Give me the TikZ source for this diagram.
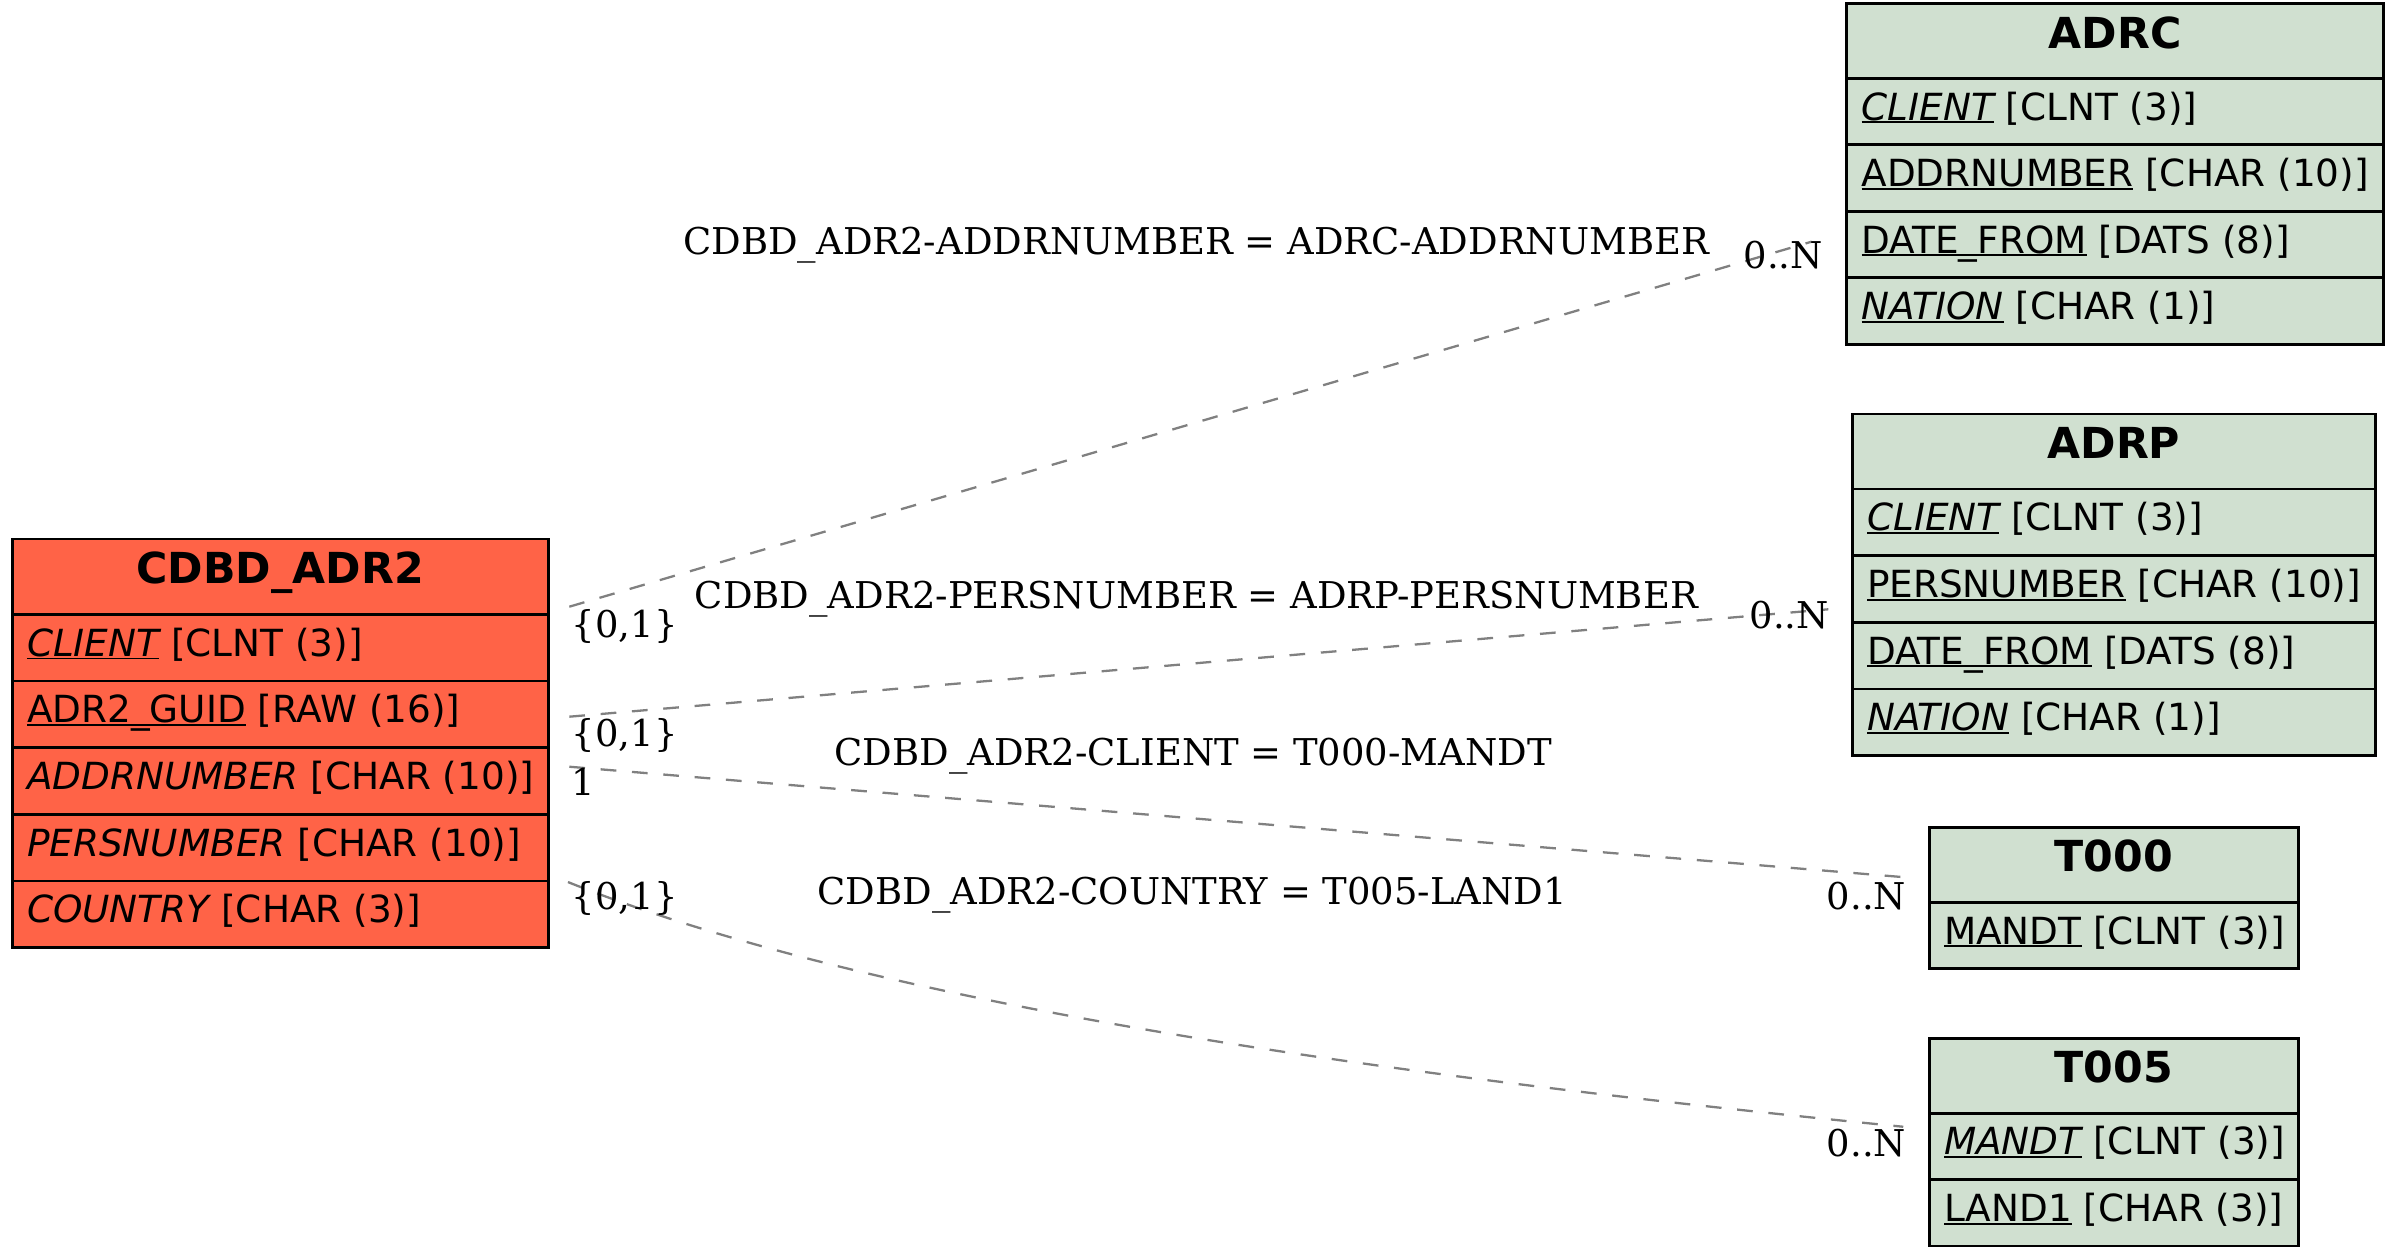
\documentclass[tikz,border=0pt]{standalone}
\usepackage{fontspec}
\newfontfamily\dvsans{DejaVu Sans}
\newfontfamily\dvserif{DejaVu Serif}
\definecolor{tomatofill}{HTML}{FF6347}
\definecolor{sapgreen}{HTML}{D0E0D0}
\definecolor{edgegray}{HTML}{808080}
\newsavebox\ukbox
\newcommand\ukey[1]{\sbox\ukbox{#1}\rlap{\rule[-2.2pt]{\wd\ukbox}{1.3pt}}\usebox\ukbox}
\newcommand\fldfont{\dvsans\fontsize{24.5}{29}\selectfont}
\newcommand\hdrfont{\dvsans\bfseries\fontsize{28}{33}\selectfont}
\newcommand\lblfont{\dvserif\fontsize{24.2}{29}\selectfont}
\tikzset{
  cellbase/.style={draw=black, line width=1.8pt, rectangle, inner sep=0pt, outer sep=0pt, anchor=north west},
  cdbdcell/.style={cellbase, fill=tomatofill},
  refcell/.style={cellbase, fill=sapgreen},
  fld/.style={anchor=base west, inner sep=0pt, font=\fldfont},
  hdr/.style={anchor=base, inner sep=0pt, font=\hdrfont},
  rel/.style={draw=edgegray, line width=1.5pt, dash pattern=on 10.3pt off 10.3pt},
  lbl/.style={anchor=base, inner sep=0pt, font=\lblfont},
  mult/.style={anchor=base west, inner sep=0pt, font=\lblfont},
}
\begin{document}
\begin{tikzpicture}[x=1pt,y=-1pt]
\useasboundingbox (0,0) rectangle (1568,817);

% ---------- CDBD_ADR2 ----------
\node[cdbdcell, minimum width=351.4pt, minimum height=49.4pt] (cdbd)  at (8,353.3) {};
\node[cdbdcell, minimum width=351.4pt, minimum height=43.7pt] (cdbd1) at (8,402.7) {};
\node[cdbdcell, minimum width=351.4pt, minimum height=43.7pt] (cdbd2) at (8,446.4) {};
\node[cdbdcell, minimum width=351.4pt, minimum height=43.7pt] (cdbd3) at (8,490.1) {};
\node[cdbdcell, minimum width=351.4pt, minimum height=43.7pt] (cdbd4) at (8,533.8) {};
\node[cdbdcell, minimum width=351.4pt, minimum height=43.7pt] (cdbd5) at (8,577.5) {};
\node[hdr] (cdbdt)  at (183.7,382.4) {CDBD\_ADR2};
\node[fld] (cdbd1t) at (17.5,430.1) {\ukey{\itshape CLIENT} [CLNT (3)]};
\node[fld] (cdbd2t) at (17.5,473.8) {\ukey{ADR2\_GUID} [RAW (16)]};
\node[fld] (cdbd3t) at (17.5,517.5) {{\itshape ADDRNUMBER} [CHAR (10)]};
\node[fld] (cdbd4t) at (17.5,561.2) {{\itshape PERSNUMBER} [CHAR (10)]};
\node[fld] (cdbd5t) at (17.5,604.9) {{\itshape COUNTRY} [CHAR (3)]};

% ---------- ADRC ----------
\node[refcell, minimum width=352pt, minimum height=49.1pt] (adrc)  at (1210.6,2.2) {};
\node[refcell, minimum width=352pt, minimum height=43.6pt] (adrc1) at (1210.6,51.3) {};
\node[refcell, minimum width=352pt, minimum height=43.6pt] (adrc2) at (1210.6,94.9) {};
\node[refcell, minimum width=352pt, minimum height=43.6pt] (adrc3) at (1210.6,138.5) {};
\node[refcell, minimum width=352pt, minimum height=43.6pt] (adrc4) at (1210.6,182.1) {};
\node[hdr] (adrct)  at (1386.6,31.7) {ADRC};
\node[fld] (adrc1t) at (1220.1,78.7) {\ukey{\itshape CLIENT} [CLNT (3)]};
\node[fld] (adrc2t) at (1220.1,122.3) {\ukey{ADDRNUMBER} [CHAR (10)]};
\node[fld] (adrc3t) at (1220.1,165.9) {\ukey{DATE\_FROM} [DATS (8)]};
\node[fld] (adrc4t) at (1220.1,209.5) {\ukey{\itshape NATION} [CHAR (1)]};

% ---------- ADRP ----------
\node[refcell, minimum width=343pt, minimum height=49.1pt] (adrp)  at (1214.2,271.4) {};
\node[refcell, minimum width=343pt, minimum height=43.7pt] (adrp1) at (1214.2,320.5) {};
\node[refcell, minimum width=343pt, minimum height=43.7pt] (adrp2) at (1214.2,364.2) {};
\node[refcell, minimum width=343pt, minimum height=43.7pt] (adrp3) at (1214.2,407.9) {};
\node[refcell, minimum width=343pt, minimum height=43.7pt] (adrp4) at (1214.2,451.6) {};
\node[hdr] (adrpt)  at (1385.7,300.7) {ADRP};
\node[fld] (adrp1t) at (1223.7,347.9) {\ukey{\itshape CLIENT} [CLNT (3)]};
\node[fld] (adrp2t) at (1223.7,391.6) {\ukey{PERSNUMBER} [CHAR (10)]};
\node[fld] (adrp3t) at (1223.7,435.3) {\ukey{DATE\_FROM} [DATS (8)]};
\node[fld] (adrp4t) at (1223.7,479.0) {\ukey{\itshape NATION} [CHAR (1)]};

% ---------- T000 ----------
\node[refcell, minimum width=241.9pt, minimum height=49.1pt] (tzero)  at (1264.7,542.3) {};
\node[refcell, minimum width=241.9pt, minimum height=43.7pt] (tzero1) at (1264.7,591.4) {};
\node[hdr] (tzerot)  at (1385.65,571.6) {T000};
\node[fld] (tzero1t) at (1274.2,618.8) {\ukey{MANDT} [CLNT (3)]};

% ---------- T005 ----------
\node[refcell, minimum width=241.9pt, minimum height=49.1pt] (tfive)  at (1264.7,680.6) {};
\node[refcell, minimum width=241.9pt, minimum height=43.7pt] (tfive1) at (1264.7,729.7) {};
\node[refcell, minimum width=241.9pt, minimum height=43.7pt] (tfive2) at (1264.7,773.4) {};
\node[hdr] (tfivet)  at (1385.65,709.9) {T005};
\node[fld] (tfive1t) at (1274.2,757.1) {\ukey{\itshape MANDT} [CLNT (3)]};
\node[fld] (tfive2t) at (1274.2,800.8) {\ukey{LAND1} [CHAR (3)]};

% ---------- connector end points ----------
\coordinate (e1s) at (373.2,397.7);
\coordinate (e1t) at (1187.6,158.4);
\coordinate (e2s) at (373.2,469.8);
\coordinate (e2t) at (1198.5,399.4);
\coordinate (e3s) at (373.2,502.6);
\coordinate (e3t) at (1248,575);
\coordinate (e4s) at (372.3,578.2);
\coordinate (e4t) at (1247.6,738.6);

\draw[rel] (e1s) -- (e1t);
\draw[rel] (e2s) -- (e2t);
\draw[rel] (e3s) -- (e3t);
\draw[rel] (e4s) .. controls (572,658) and (898,704) .. (e4t);

% ---------- labels ----------
\node[lbl] (l1) at (784.1,166.5) {CDBD\_ADR2-ADDRNUMBER = ADRC-ADDRNUMBER};
\node[lbl] (l2) at (784.2,398.6) {CDBD\_ADR2-PERSNUMBER = ADRP-PERSNUMBER};
\node[lbl] (l3) at (782.2,502.0) {CDBD\_ADR2-CLIENT = T000-MANDT};
\node[lbl] (l4) at (781.5,592.8) {CDBD\_ADR2-COUNTRY = T005-LAND1};

\node[mult] (m1s) at (374.7,417.8) {\{0,1\}};
\node[mult] (m2s) at (374.7,489.5) {\{0,1\}};
\node[mult] (m3s) at (374.7,521.2) {1};
\node[mult] (m4s) at (374.7,596.5) {\{0,1\}};
\node[mult] (m1t) at (1142.8,175.9) {0..N};
\node[mult] (m2t) at (1146.7,411.9) {0..N};
\node[mult] (m3t) at (1197.4,596.2) {0..N};
\node[mult] (m4t) at (1197.4,758.2) {0..N};
\end{tikzpicture}
\end{document}
